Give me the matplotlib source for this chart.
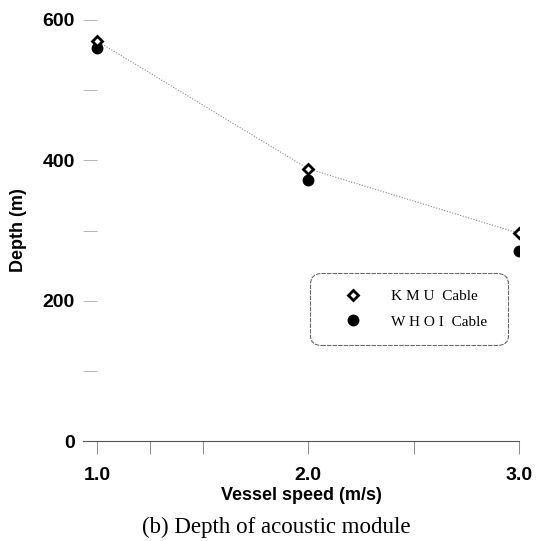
import matplotlib
matplotlib.use('Agg')
import matplotlib.pyplot as plt
from matplotlib.ticker import FixedLocator, MultipleLocator

# data
speed = [1.0, 2.0, 3.0]
kmu_depth = [570, 388, 296]
whoi_depth = [560, 372, 271]

fig = plt.figure(figsize=(5.36, 5.41), dpi=100)
ax = fig.add_axes([83/536, 1-441/541, 436/536, 421/541])

ax.plot(speed, kmu_depth, color='#888888', lw=0.8, ls=(0, (1, 1.5)), zorder=1)
ax.plot(speed, kmu_depth, ls='none', marker='D', ms=5.5, mfc='white', mec='black',
        mew=2.0, label='K M U  Cable', zorder=3)
ax.plot(speed, whoi_depth, ls='none', marker='o', ms=7.5, color='black',
        label='W H O I  Cable', zorder=2)

ax.set_xlim(0.933, 3.0)
ax.set_ylim(0, 600)
ax.set_xticks(speed)
ax.set_xticklabels(['1.0', '2.0', '3.0'])
ax.xaxis.set_minor_locator(FixedLocator([1.25, 1.5, 2.5]))
ax.set_yticks([0, 200, 400, 600])
ax.yaxis.set_minor_locator(MultipleLocator(100))

for s in ['left', 'top', 'right']:
    ax.spines[s].set_visible(False)
ax.spines['bottom'].set_color('#555555')
ax.spines['bottom'].set_linewidth(0.8)

ax.tick_params(axis='x', which='both', direction='out', length=9, pad=10,
               color='#777777', width=0.6, labelsize=14)
ax.tick_params(axis='y', which='both', direction='in', length=10, color='#aaaaaa',
               width=0.6, pad=6, labelsize=14)
for lab in ax.get_xticklabels() + ax.get_yticklabels():
    lab.set_fontweight('bold')
    lab.set_family('Liberation Sans')

ax.set_xlabel('Vessel speed (m/s)', fontsize=13, fontweight='bold',
              family='Liberation Sans', labelpad=2)
ax.set_ylabel('Depth (m)', fontsize=13, fontweight='bold',
              family='Liberation Sans', labelpad=11)

leg = ax.legend(loc='upper left', bbox_to_anchor=((310-83)/436, 1-(349-20)/421,
                (508-310)/436, (349-273)/421), mode='expand', frameon=True,
                fancybox=True, borderpad=1.1, labelspacing=0.75, handlelength=3.4,
                handletextpad=0.8, prop={'family': 'Liberation Serif', 'size': 11},
                borderaxespad=0)
leg.get_frame().set_boxstyle('round', pad=0, rounding_size=0.7)
leg.get_frame().set_edgecolor('#444444')
leg.get_frame().set_linewidth(0.8)
leg.get_frame().set_linestyle((0, (4, 1)))

fig.text(276/536, 1-527/541, '(b) Depth of acoustic module', ha='center',
         va='center', fontsize=16.5, family='Liberation Serif')

fig.savefig('out.png', dpi=100)
